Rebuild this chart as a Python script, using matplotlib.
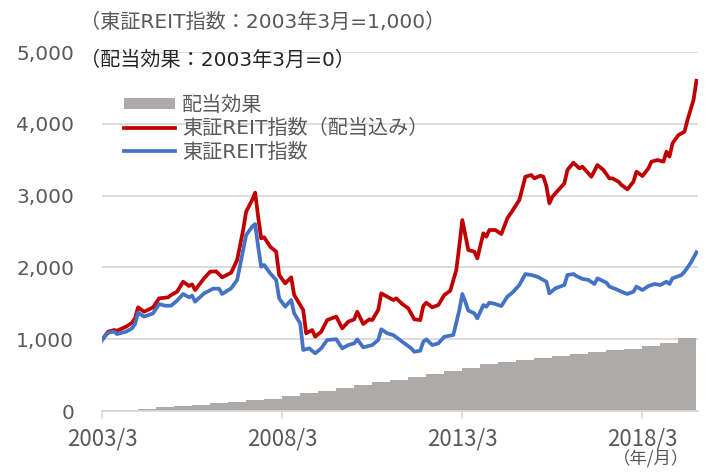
import numpy as np
import matplotlib.pyplot as plt
from matplotlib.patches import Patch
from matplotlib.lines import Line2D

plt.rcParams['font.family'] = ['DejaVu Sans', 'Noto Sans CJK JP']

# months counted from 2003/3
red_month = [0, 2, 4, 5, 8, 10, 11, 12, 14, 17, 19, 22, 23, 25, 27, 29, 30, 31, 34, 36,
             38, 40, 43, 45, 47, 48, 50, 51, 52, 53, 54, 56, 58, 59, 61, 63, 64, 67, 68, 70,
             71, 73, 75, 78, 80, 82, 84, 85, 87, 89, 90, 92, 93, 95, 97, 98, 100, 102, 104, 106,
             107, 108, 110, 112, 114, 116, 118, 119, 120, 121, 122, 124, 125, 127, 128, 129, 131, 133, 135, 137,
             139, 141, 143, 144, 146, 147, 148, 149, 150, 152, 154, 155, 157, 159, 160, 162, 163, 165, 167, 169,
             170, 172, 173, 175, 177, 178, 180, 182, 183, 185, 187, 188, 189, 190, 192, 194, 195, 197, 198]
red_value = [990, 1105, 1128, 1119, 1174, 1230, 1291, 1444, 1383, 1444, 1569, 1583, 1616, 1662, 1801, 1741, 1764, 1685, 1848, 1940,
             1945, 1862, 1926, 2103, 2521, 2776, 2939, 3041, 2706, 2405, 2420, 2289, 2219, 1894, 1778, 1862, 1616, 1407, 1082, 1128,
             1035, 1105, 1267, 1315, 1151, 1244, 1277, 1383, 1212, 1277, 1267, 1407, 1639, 1592, 1546, 1569, 1490, 1430, 1277, 1267,
             1462, 1509, 1444, 1476, 1616, 1676, 1964, 2300, 2660, 2450, 2242, 2219, 2126, 2475, 2428, 2521, 2521, 2465, 2684, 2809,
             2939, 3263, 3287, 3240, 3277, 3263, 3134, 2893, 2985, 3078, 3171, 3357, 3458, 3380, 3403, 3310, 3263, 3426, 3357, 3240,
             3240, 3194, 3148, 3088, 3194, 3333, 3273, 3380, 3473, 3496, 3473, 3612, 3543, 3728, 3844, 3890, 4053, 4331, 4600]

blue_month = [0, 2, 4, 5, 8, 10, 11, 12, 14, 17, 19, 21, 23, 25, 27, 29, 30, 31, 34, 37,
              39, 40, 43, 45, 47, 48, 50, 51, 52, 53, 54, 56, 58, 59, 61, 63, 64, 66, 67, 69,
              71, 73, 75, 78, 80, 82, 84, 85, 87, 90, 92, 93, 95, 97, 100, 103, 104, 106, 107, 108,
              110, 112, 114, 117, 118, 119, 120, 121, 122, 124, 125, 127, 128, 129, 131, 133, 135, 137, 139, 141,
              143, 145, 148, 149, 151, 154, 155, 157, 158, 160, 162, 164, 165, 168, 169, 171, 173, 175, 177, 178,
              180, 182, 184, 186, 188, 189, 190, 193, 194, 196, 198]
blue_value = [990, 1091, 1105, 1072, 1105, 1151, 1212, 1370, 1314, 1360, 1490, 1467, 1467, 1537, 1630, 1583, 1607, 1523, 1639, 1704,
              1704, 1630, 1709, 1825, 2242, 2451, 2567, 2604, 2289, 2010, 2033, 1918, 1825, 1569, 1453, 1546, 1360, 1221, 850, 873,
              803, 873, 989, 1000, 873, 919, 942, 998, 887, 919, 989, 1138, 1082, 1058, 965, 873, 826, 840, 965, 998,
              919, 942, 1035, 1058, 1230, 1407, 1630, 1520, 1400, 1360, 1291, 1476, 1453, 1509, 1490, 1462, 1592, 1662, 1755, 1908,
              1894, 1871, 1801, 1639, 1709, 1755, 1894, 1908, 1880, 1840, 1825, 1769, 1848, 1788, 1732, 1700, 1662, 1630, 1662, 1732,
              1685, 1741, 1769, 1755, 1801, 1769, 1848, 1894, 1940, 2057, 2210]

div_month = [0, 6, 12, 18, 24, 30, 36, 42, 48, 54, 60, 66, 72, 78, 84, 90, 96, 102, 108, 114,
             120, 126, 132, 138, 144, 150, 156, 162, 168, 174, 180, 186, 192, 198]
div_value = [8, 20, 32, 50, 70, 88, 110, 132, 152, 172, 205, 245, 285, 325, 365, 405, 436, 470, 510, 555,
             605, 650, 680, 705, 734, 762, 795, 822, 845, 870, 905, 950, 1020, 1040]

tick_month = [0, 60, 120, 180]
tick_label = ['2003/3', '2008/3', '2013/3', '2018/3']

RED = '#C00000'
BLUE = '#4472C4'
GRAY = '#AEAAAA'
TXT = '#595959'

fig = plt.figure(figsize=(7.1, 4.72), dpi=100)
ax = fig.add_axes([0.1437, 0.1292, 0.8394, 0.7606])

ax.fill_between(div_month, div_value, step='post', color=GRAY, lw=0, zorder=1)
ax.plot(red_month, red_value, color=RED, lw=2.7, zorder=3)
ax.plot(blue_month, blue_value, color=BLUE, lw=2.7, zorder=3)

ax.set_xlim(0, 198.5)
ax.set_ylim(0, 5000)
ax.set_yticks(range(0, 5001, 1000))
ax.set_yticklabels([f'{v:,}' for v in range(0, 5001, 1000)], fontsize=14.5, color=TXT)
ax.set_xticks(tick_month)
ax.set_xticklabels(tick_label, fontsize=16, color=TXT, family='Noto Sans CJK JP')
ax.tick_params(axis='y', length=0, pad=20)
ax.tick_params(axis='x', length=6, color='#D9D9D9', width=1.2, pad=6)

for v in range(1000, 5001, 1000):
    ax.axhline(v, color='#D9D9D9', lw=1.3, zorder=0)
for s in ['top', 'right', 'left']:
    ax.spines[s].set_visible(False)
ax.spines['bottom'].set_color('#D9D9D9')
ax.spines['bottom'].set_linewidth(1.3)

fig.text(0.112, 0.953, '（東証REIT指数：2003年3月=1,000）', fontsize=14.5, color=TXT, va='center')
fig.text(0.112, 0.872, '（配当効果：2003年3月=0）', fontsize=14.5, color='#262626', va='center')
fig.text(0.917, 0.026, '（年/月）', fontsize=12.5, color=TXT, ha='center', va='center',
         family='Noto Sans CJK JP')

handles = [Patch(facecolor=GRAY, edgecolor='none'),
           Line2D([], [], color=RED, lw=2.7),
           Line2D([], [], color=BLUE, lw=2.7)]
labels = ['配当効果', '東証REIT指数（配当込み）', '東証REIT指数']
leg = ax.legend(handles, labels, loc='upper left', bbox_to_anchor=(0.161, 0.819),
                bbox_transform=fig.transFigure, frameon=False, fontsize=14.5,
                handlelength=2.5, handleheight=0.5, handletextpad=0.35, labelspacing=0.22, borderpad=0)
for t in leg.get_texts():
    t.set_color(TXT)

fig.savefig('out.png', dpi=100)
